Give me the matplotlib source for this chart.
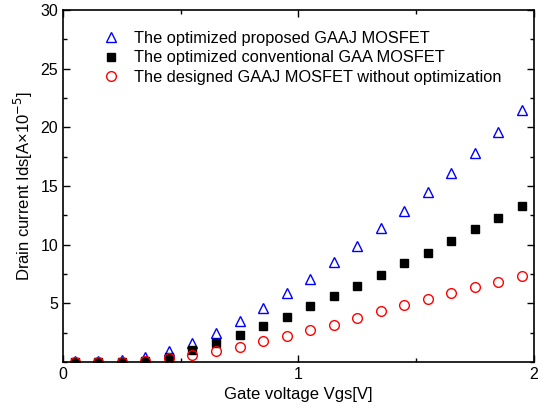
import matplotlib.pyplot as plt
from matplotlib.ticker import MultipleLocator

plt.rcParams["font.family"] = ["Liberation Sans", "DejaVu Sans"]

vgs = [0.05, 0.15, 0.25, 0.35, 0.45, 0.55, 0.65, 0.75, 0.85, 0.95,
       1.05, 1.15, 1.25, 1.35, 1.45, 1.55, 1.65, 1.75, 1.85, 1.95]
ids_proposed = [0.05, 0.05, 0.15, 0.4, 0.95, 1.65, 2.5, 3.5, 4.6, 5.85,
                7.1, 8.5, 9.9, 11.4, 12.9, 14.5, 16.1, 17.8, 19.6, 21.5]
ids_conventional = [0.0, 0.0, 0.02, 0.05, 0.4, 1.0, 1.65, 2.33, 3.07, 3.86,
                    4.75, 5.6, 6.5, 7.45, 8.4, 9.3, 10.3, 11.3, 12.3, 13.3]
ids_designed = [0.02, 0.02, 0.03, 0.1, 0.3, 0.57, 0.94, 1.3, 1.76, 2.2,
                2.7, 3.18, 3.72, 4.35, 4.86, 5.37, 5.88, 6.37, 6.82, 7.33]

labels = [
    "The optimized proposed GAAJ MOSFET",
    "The optimized conventional GAA MOSFET",
    "The designed GAAJ MOSFET without optimization",
]

fig = plt.figure(figsize=(5.43, 4.18), dpi=100)
ax = fig.add_axes([0.116, 0.134, 0.867, 0.842])

ax.plot(vgs, ids_proposed, ls="none", marker="^", ms=7.5, mfc="none",
        mec="blue", mew=1.0, label=labels[0])
ax.plot(vgs, ids_conventional, ls="none", marker="s", ms=6, mfc="black",
        mec="black", label=labels[1])
ax.plot(vgs, ids_designed, ls="none", marker="o", ms=7, mfc="none",
        mec="red", mew=1.0, label=labels[2])

ax.set_xlim(0, 2)
ax.set_ylim(0, 30)
ax.set_xticks([0, 1, 2])
ax.set_yticks([5, 10, 15, 20, 25, 30])
ax.xaxis.set_minor_locator(MultipleLocator(0.5))
ax.yaxis.set_minor_locator(MultipleLocator(2.5))
ax.tick_params(which="both", direction="in", top=True, right=True,
               labelsize=11.5, width=1)
ax.tick_params(which="major", length=5)
ax.tick_params(which="minor", length=3)
for sp in ax.spines.values():
    sp.set_linewidth(1.2)

ax.set_xlabel("Gate voltage Vgs[V]", fontsize=12)
ax.set_ylabel("Drain current Ids[A\u00d710$^{-5}$]", fontsize=12)

ax.legend(loc="upper left", bbox_to_anchor=(0.068, 0.96), frameon=False,
          fontsize=11.8, handletextpad=0.75, labelspacing=0.28,
          handlelength=1.2, borderaxespad=0)

fig.savefig("out.png", dpi=100)
